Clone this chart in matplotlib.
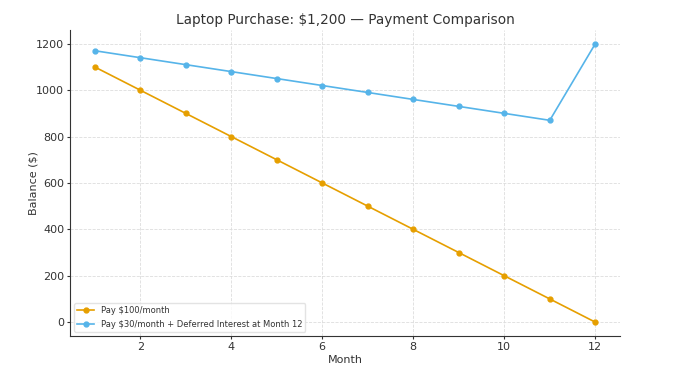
import matplotlib
matplotlib.use("Agg")
import matplotlib.pyplot as plt

months = list(range(1, 13))
pay100 = [1100, 1000, 900, 800, 700, 600, 500, 400, 300, 200, 100, 0]
pay30 = [1170, 1140, 1110, 1080, 1050, 1020, 990, 960, 930, 900, 870, 1200]
labels = ["Pay $100/month", "Pay $30/month + Deferred Interest at Month 12"]
title = "Laptop Purchase: $1,200 \u2014 Payment Comparison"

fig = plt.figure(figsize=(6.9, 3.73), dpi=100)
ax = fig.add_axes([0.101, 0.099, 0.798, 0.821])

ax.plot(months, pay100, marker="o", markersize=3.5, linewidth=1.2, color="#E69F00", label=labels[0])
ax.plot(months, pay30, marker="o", markersize=3.5, linewidth=1.2, color="#56B4E9", label=labels[1])

ax.set_title(title, fontsize=9.8, color="#333333", pad=4)
ax.set_xlabel("Month", fontsize=8, color="#333333", labelpad=2)
ax.set_ylabel("Balance ($)", fontsize=8, color="#333333", labelpad=-2)
ax.grid(True, linestyle="--", linewidth=0.6, color="#dddddd")
ax.set_axisbelow(True)
for s in ["top", "right"]:
    ax.spines[s].set_visible(False)
for s in ["left", "bottom"]:
    ax.spines[s].set_color("#333333")
ax.tick_params(labelsize=8, colors="#333333", length=2.5, pad=2)
ax.tick_params(axis="y", pad=1.5)
ax.set_yticks([0, 200, 400, 600, 800, 1000, 1200])
ax.set_xticks([2, 4, 6, 8, 10, 12])
leg = ax.legend(loc="lower left", fontsize=6, frameon=True)
leg.get_frame().set_edgecolor("#dddddd")
for t in leg.get_texts():
    t.set_color("#333333")

fig.savefig("out.png", dpi=100)
